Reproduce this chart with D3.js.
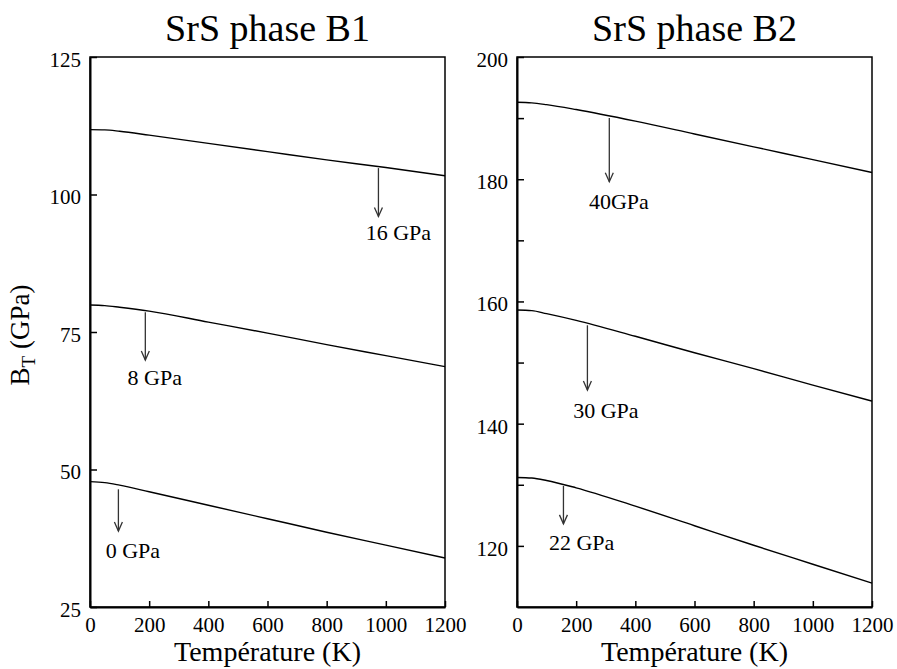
<!DOCTYPE html>
<html><head><meta charset="utf-8">
<script src="https://cdn.jsdelivr.net/npm/d3@7/dist/d3.min.js"></script>
<style>
body{margin:0;background:#fff;}
svg text{font-family:"Liberation Serif","DejaVu Serif",serif !important;fill:#000;}
</style></head>
<body><svg id="c" width="897" height="669"></svg>
<script>
// Temperature grid (K)
const temps = [0, 50, 100, 200, 400, 600, 800, 1000, 1200];

// Phase B1 bulk modulus B_T (GPa)
const b1_0GPa  = [47.8, 47.62, 47.15, 45.95, 43.5, 41.05, 38.6, 36.25, 33.9];
const b1_8GPa  = [79.9, 79.8, 79.5, 78.8, 76.8, 74.8, 72.7, 70.7, 68.7];
const b1_16GPa = [111.8, 111.75, 111.5, 110.8, 109.3, 107.8, 106.3, 104.9, 103.4];

// Phase B2 bulk modulus B_T (GPa)
const b2_22GPa = [131.2, 131.1, 130.7, 129.5, 126.5, 123.3, 120.1, 117.0, 113.9];
const b2_30GPa = [158.6, 158.5, 158.0, 156.9, 154.3, 151.6, 149.0, 146.3, 143.7];
const b2_40GPa = [192.6, 192.5, 192.2, 191.4, 189.5, 187.4, 185.3, 183.2, 181.1];

// Tick values
const xTicks = [0, 200, 400, 600, 800, 1000, 1200];
const b1YTicks = [25, 50, 75, 100, 125];
const b2YTicks = [120, 140, 160, 180, 200];
const b2YMinor = [130, 150, 170, 190];

// Annotations: label, arrow temperature, arrow start/end B, label position
const b1Notes = [
  {label: "16 GPa", t: 975, y0: 104.8, y1: 96.0, ly: 91.7, lt: 932},
  {label: "8 GPa",  t: 187, y0: 78.6,  y1: 69.9, ly: 65.4, lt: 127},
  {label: "0 GPa",  t: 96,  y0: 46.4,  y1: 38.8, ly: 33.9, lt: 53}
];
const b2Notes = [
  {label: "40GPa",  t: 312, y0: 190.0, y1: 179.6, ly: 175.1, lt: 243},
  {label: "30 GPa", t: 238, y0: 156.1, y1: 145.5, ly: 140.9, lt: 190},
  {label: "22 GPa", t: 157, y0: 129.8, y1: 123.6, ly: 119.3, lt: 108}
];

const FONT = '"Liberation Serif","DejaVu Serif",serif';
const svg = d3.select("#c");

function panel(opt){
  const g = svg.append("g");
  const x = d3.scaleLinear().domain([0,1200]).range([opt.x0, opt.x1]);
  const y = d3.scaleLinear().domain(opt.yd).range([607, 57]);
  g.append("rect").attr("x",opt.x0).attr("y",57).attr("width",opt.x1-opt.x0).attr("height",550)
    .attr("fill","none").attr("stroke","#000").attr("stroke-width",1.5);
  const xa = g.append("g").attr("transform","translate(0,607)")
    .call(d3.axisBottom(x).tickValues(xTicks).tickSizeInner(-6).tickSizeOuter(0).tickPadding(10).tickFormat(d3.format("d")));
  xa.attr("font-family",null);
  xa.select(".domain").attr("stroke-width",2);
  xa.selectAll("line").attr("stroke-width",1.5);
  xa.selectAll("text").style("font-size","21px").style("font-family",FONT);
  const ya = g.append("g").attr("transform",`translate(${opt.x0},0)`)
    .call(d3.axisLeft(y).tickValues(opt.yt).tickSizeInner(-7).tickSizeOuter(0).tickPadding(9).tickFormat(d3.format("d")));
  ya.attr("font-family",null);
  ya.select(".domain").attr("stroke-width",2);
  ya.selectAll("line").attr("stroke-width",1.5);
  ya.selectAll("text").style("font-size","21px").style("font-family",FONT).attr("dy","0.45em");
  if(opt.minor){
    g.append("g").attr("transform",`translate(${opt.x0},0)`)
      .call(d3.axisLeft(y).tickValues(opt.minor).tickSizeInner(-7).tickSizeOuter(0).tickFormat(""))
      .call(s=>{s.select(".domain").remove(); s.selectAll("line").attr("stroke-width",1.5);});
  }
  const line = d3.line().x((d,i)=>x(temps[i])).y(d=>y(d)).curve(d3.curveMonotoneX);
  opt.series.forEach(s=>{
    g.append("path").attr("d",line(s)).attr("fill","none").attr("stroke","#000").attr("stroke-width",1.4);
  });
  opt.notes.forEach(n=>{
    const ax = x(n.t), ay0 = y(n.y0), ay1 = y(n.y1);
    g.append("line").attr("x1",ax).attr("x2",ax).attr("y1",ay0).attr("y2",ay1)
      .attr("stroke","#333").attr("stroke-width",1.3);
    g.append("path").attr("d",`M${ax-4},${ay1-9} L${ax},${ay1} L${ax+4},${ay1-9}`)
      .attr("fill","none").attr("stroke","#333").attr("stroke-width",1.3);
    g.append("text").attr("x",x(n.lt)).attr("y",y(n.ly)).style("font-size","22px").style("font-family",FONT).text(n.label);
  });
  g.append("text").attr("x",(opt.x0+opt.x1)/2).attr("y",41).attr("text-anchor","middle")
    .style("font-size","38px").style("font-family",FONT).text(opt.title);
  g.append("text").attr("x",(opt.x0+opt.x1)/2).attr("y",661).attr("text-anchor","middle")
    .style("font-size","28px").style("font-family",FONT).text("Température (K)");
}

panel({x0:90, x1:445, yd:[25,125], yt:b1YTicks, series:[b1_0GPa,b1_8GPa,b1_16GPa], notes:b1Notes, title:"SrS phase B1"});
panel({x0:517, x1:872, yd:[110,200], yt:b2YTicks, minor:b2YMinor, series:[b2_22GPa,b2_30GPa,b2_40GPa], notes:b2Notes, title:"SrS phase B2"});

const yl = svg.append("text").attr("transform","translate(29,335) rotate(-90)").attr("text-anchor","middle")
  .style("font-size","27px").style("font-family",FONT);
yl.append("tspan").text("B");
yl.append("tspan").style("font-size","19px").attr("dy",6).text("T");
yl.append("tspan").attr("dy",-6).text(" (GPa)");
</script></body></html>
